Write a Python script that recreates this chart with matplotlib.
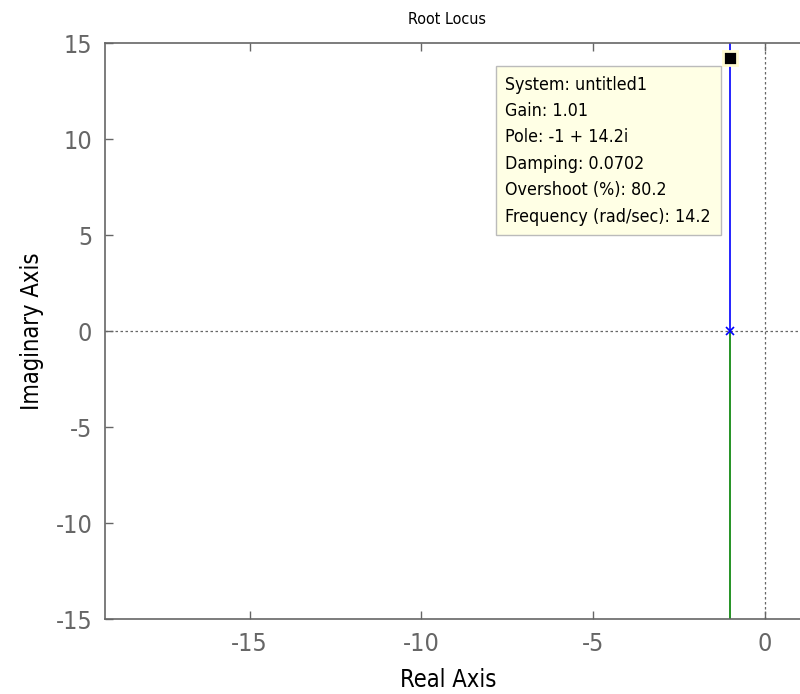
"""Root locus con data tip"""

import matplotlib.pyplot as plt

# datos
rama1_re = [-1, -1]
rama1_im = [0, 15]
rama2_re = [-1, -1]
rama2_im = [0, -15]
polo_re = [-1]
polo_im = [0]
tip_re = [-1]
tip_im = [14.2]
xticks = [-15, -10, -5, 0]
yticks = [-15, -10, -5, 0, 5, 10, 15]
tip_lineas = ['System: untitled1', 'Gain: 1.01', 'Pole: -1 + 14.2i',
              'Damping: 0.0702', 'Overshoot (%): 80.2',
              'Frequency (rad/sec): 14.2']

plt.rcParams['font.family'] = ['Liberation Sans Narrow', 'DejaVu Sans']
plt.rcParams['font.stretch'] = 'condensed'
plt.rcParams['axes.unicode_minus'] = False

fig = plt.figure(figsize=(8, 6.94), dpi=100)
ax = fig.add_axes([0.131, 0.108, 0.885, 0.830])

gris = '#666666'
ax.axhline(0, color=gris, linestyle=(0, (2, 2)), linewidth=0.9)
ax.axvline(0, color=gris, linestyle=(0, (2, 2)), linewidth=0.9)

ax.plot(rama1_re, rama1_im, color='blue', linewidth=1.2)
ax.plot(rama2_re, rama2_im, color='green', linewidth=1.2)
ax.plot(polo_re, polo_im, 'x', color='blue', markersize=6, mew=1.2)
ax.plot(tip_re, tip_im, 's', color='black', markersize=10,
        markeredgecolor='#fffbd0', mew=2)

ax.text(-7.55, 13.3, '\n'.join(tip_lineas), fontsize=12.8, va='top', ha='left',
        linespacing=1.6,
        bbox=dict(boxstyle='square,pad=0.55', fc='#ffffe5', ec='#bbbbbb', lw=1))

ax.set_xlim(-19.22, 1.40)
ax.set_ylim(-15, 15)
ax.set_xticks(xticks)
ax.set_yticks(yticks)
ax.tick_params(direction='in', top=True, right=True, labelsize=18,
               colors=gris, length=6, width=1, pad=9)
for s in ax.spines.values():
    s.set_color(gris)
    s.set_linewidth(1.2)

# centrado sobre la parte visible del eje
ax.set_title('Root Locus', fontsize=11.5, pad=14, x=0.483)
ax.set_xlabel('Real Axis', fontsize=17, labelpad=9, x=0.485)
ax.set_ylabel('Imaginary Axis', fontsize=17, labelpad=8)

fig.savefig('out.png', dpi=100)
